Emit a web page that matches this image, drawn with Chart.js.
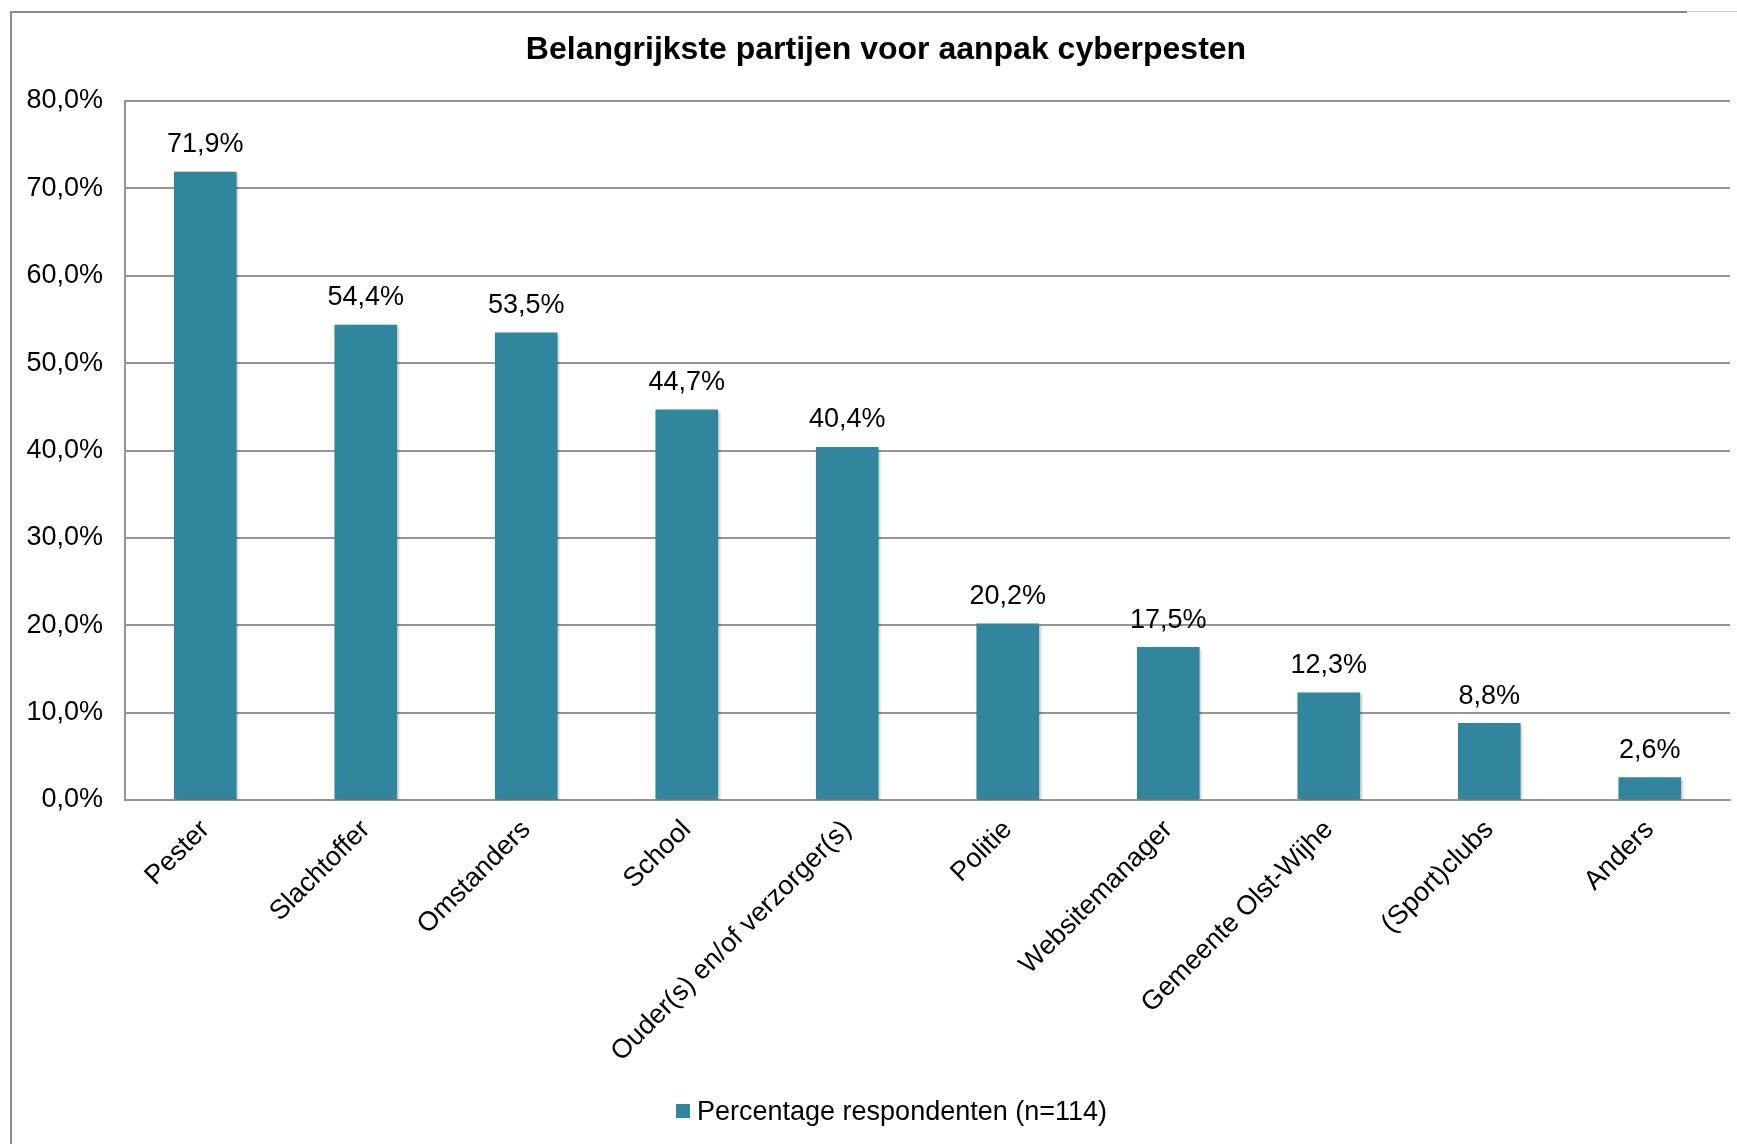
<!DOCTYPE html>
<html>
<head>
<meta charset="utf-8">
<script src="https://cdn.jsdelivr.net/npm/chart.js@4.4.0/dist/chart.umd.min.js"></script>
<style>
  html, body { margin: 0; padding: 0; background: #fff; }
  #wrap { position: relative; width: 1737px; height: 1144px; overflow: hidden; }
  #frame { position: absolute; left: 10px; top: 11px; width: 1675px; height: 1200px;
           border-left: 2px solid #8a8a8a; border-top: 2px solid #8a8a8a; }
  #edge { position: absolute; left: 1687px; top: 11px; width: 50px; height: 0;
          border-top: 1px solid #c8c8c8; }
  canvas { position: absolute; left: 0; top: 0; }
</style>
</head>
<body>
<div id="wrap">
  <div id="frame"></div>
  <div id="edge"></div>
  <canvas id="chart" width="1737" height="1144"></canvas>
</div>
<script>
const categories = ['Pester', 'Slachtoffer', 'Omstanders', 'School', 'Ouder(s) en/of verzorger(s)',
  'Politie', 'Websitemanager', 'Gemeente Olst-Wijhe', '(Sport)clubs', 'Anders'];
const percentages = [71.9, 54.4, 53.5, 44.7, 40.4, 20.2, 17.5, 12.3, 8.8, 2.6];
const seriesName = 'Percentage respondenten (n=114)';
const titleText = 'Belangrijkste partijen voor aanpak cyberpesten';
const yTicks = { min: 0, max: 80, step: 10 };

const teal = '#31859c';
const gridGrey = '#949494';
const fontFamily = '"Liberation Sans", Arial, sans-serif';

const fmt = v => v.toFixed(1).replace('.', ',') + '%';

// value labels above each bar
const barLabels = {
  id: 'barLabels',
  afterDatasetsDraw(chart) {
    const ctx = chart.ctx;
    ctx.save();
    ctx.font = '27px ' + fontFamily;
    ctx.fillStyle = '#000';
    ctx.textAlign = 'center';
    ctx.textBaseline = 'middle';
    chart.getDatasetMeta(0).data.forEach((bar, i) => {
      ctx.fillText(fmt(percentages[i]), bar.x, bar.y - 27);
    });
    ctx.restore();
  }
};

// soft shadow on the bars
const barShadow = {
  id: 'barShadow',
  beforeDatasetsDraw(chart) {
    const ctx = chart.ctx;
    ctx.save();
    ctx.shadowColor = 'rgba(0,0,0,0.28)';
    ctx.shadowBlur = 3;
    ctx.shadowOffsetX = 1.5;
    ctx.shadowOffsetY = 1.5;
  },
  afterDatasetsDraw(chart) {
    chart.ctx.restore();
  }
};

// title and legend sit a bit off-centre in the original, so place them by hand
const titleAndKey = {
  id: 'titleAndKey',
  afterDraw(chart) {
    const ctx = chart.ctx;
    ctx.save();
    ctx.fillStyle = '#000';
    ctx.textBaseline = 'alphabetic';
    ctx.font = 'bold 32px ' + fontFamily;
    ctx.textAlign = 'center';
    ctx.fillText(titleText, 886, 59);

    ctx.fillStyle = chart.data.datasets[0].backgroundColor;
    ctx.fillRect(676, 1104, 14, 14);
    ctx.fillStyle = '#000';
    ctx.font = '27px ' + fontFamily;
    ctx.textAlign = 'left';
    ctx.fillText(chart.data.datasets[0].label, 697, 1120);
    ctx.restore();
  }
};

new Chart(document.getElementById('chart'), {
  type: 'bar',
  data: {
    labels: categories,
    datasets: [{
      label: seriesName,
      data: percentages,
      backgroundColor: teal,
      borderWidth: 0,
      barPercentage: 0.39,
      categoryPercentage: 1
    }]
  },
  options: {
    responsive: false,
    animation: false,
    layout: { padding: { left: 10, right: 7, top: 101, bottom: 55 } },
    plugins: {
      title: { display: false },
      legend: { display: false },
      tooltip: { enabled: false }
    },
    scales: {
      x: {
        grid: { display: false },
        border: { display: true, color: gridGrey, width: 2 },
        ticks: {
          color: '#000',
          font: { family: fontFamily, size: 27 },
          autoSkip: false,
          minRotation: 45,
          maxRotation: 45,
          padding: 6
        },
        afterFit: s => { s.height = 289; }
      },
      y: {
        min: yTicks.min,
        max: yTicks.max,
        grid: { color: gridGrey, lineWidth: 2, drawTicks: false },
        border: { display: true, color: gridGrey, width: 2 },
        ticks: {
          stepSize: yTicks.step,
          color: '#000',
          font: { family: fontFamily, size: 27 },
          padding: 22,
          callback: v => fmt(v)
        },
        afterFit: s => { s.width = 115; }
      }
    }
  },
  plugins: [barShadow, barLabels, titleAndKey]
});
</script>
</body>
</html>
